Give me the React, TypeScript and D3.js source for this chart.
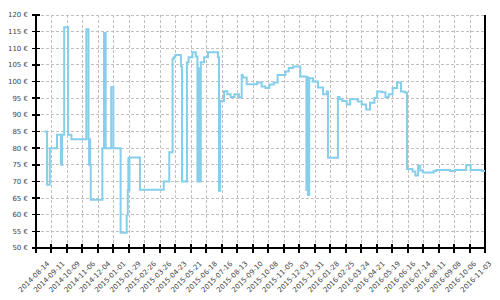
import React from "react";
import * as d3 from "d3";

const dates = [
  "2014-08-29","2014-09-03","2014-09-08","2014-09-21","2014-09-28","2014-09-30","2014-10-04","2014-10-11","2014-10-17",
  "2014-11-13","2014-11-17","2014-11-18","2014-11-19","2014-11-20","2014-11-21","2014-12-12","2014-12-15","2014-12-18",
  "2014-12-28","2015-01-01","2015-01-14","2015-01-25","2015-01-27","2015-01-28","2015-01-29","2015-01-30","2015-02-18",
  "2015-04-02","2015-04-12","2015-04-18","2015-04-20","2015-04-23","2015-05-03","2015-05-05","2015-05-14","2015-05-17",
  "2015-05-24","2015-05-30","2015-06-02","2015-06-05","2015-06-06","2015-06-08","2015-06-14","2015-06-21","2015-07-09",
  "2015-07-11","2015-07-13","2015-07-20","2015-07-26","2015-08-01","2015-08-08","2015-08-16","2015-08-21","2015-08-23",
  "2015-08-30","2015-09-18","2015-09-26","2015-10-03","2015-10-10","2015-10-18","2015-10-25","2015-11-08","2015-11-14",
  "2015-11-22","2015-12-05","2015-12-16","2015-12-17","2015-12-19","2015-12-21","2015-12-28","2016-01-06","2016-01-15",
  "2016-01-22","2016-01-24","2016-02-11","2016-02-14","2016-02-19","2016-02-27","2016-03-04","2016-03-18","2016-03-25",
  "2016-04-02","2016-04-09","2016-04-17","2016-04-22","2016-04-30","2016-05-07","2016-05-13","2016-05-20","2016-05-28",
  "2016-06-04","2016-06-11","2016-06-15","2016-06-25","2016-06-30","2016-07-05","2016-07-09","2016-07-14","2016-08-02",
  "2016-08-07","2016-09-01","2016-09-10","2016-09-30","2016-10-08","2016-10-28","2016-11-03"
];
const prices = [
  85, 69, 80, 84, 75, 84, 116.3, 84, 82.7,
  115.7, 82.7, 75, 82.7, 75, 64.5, 80, 114.6, 80,
  98.3, 80, 54.6, 60, 67.4, 77, 67.4, 77.2, 67.5,
  70, 78.8, 106.8, 107.3, 108, 104.5, 70, 105.8, 107.3,
  108.8, 107.5, 70, 104, 70, 105.8, 107.3, 108.8, 107.3,
  67.2, 94.2, 97.1, 96.2, 95.4, 96.2, 95.2, 102, 101.2,
  99.2, 99.7, 98.5, 98.1, 99.1, 99.7, 102, 103, 104.1,
  104.5, 101.5, 67.4, 101.3, 65.9, 101, 100, 98.2, 96.2,
  97, 77.1, 95.4, 94.7, 94.2, 93.1, 94.7, 94, 93.1,
  91.6, 93.6, 95.1, 97, 96.8, 95.4, 96.2, 98.1, 99.7,
  97, 96.7, 73.7, 73, 71.8, 74.7, 73.3, 72.7, 73.1,
  73.4, 73.1, 73.4, 74.9, 73.4, 73.1, 73.1
];
const tickLabels = [
  "2014-08-14","2014-09-11","2014-10-09","2014-11-06","2014-12-04","2015-01-01","2015-01-29","2015-02-26",
  "2015-03-26","2015-04-23","2015-05-21","2015-06-18","2015-07-16","2015-08-13","2015-09-10","2015-10-08",
  "2015-11-05","2015-12-03","2015-12-31","2016-01-28","2016-02-25","2016-03-24","2016-04-21","2016-05-19",
  "2016-06-16","2016-07-14","2016-08-11","2016-09-08","2016-10-06","2016-11-03"
];
const yTicks = [50, 55, 60, 65, 70, 75, 80, 85, 90, 95, 100, 105, 110, 115, 120];

const parse = d3.utcParse("%Y-%m-%d");

export default function App() {
  const left = 36, right = 485, top = 15, bottom = 248;
  const x = d3.scaleUtc()
    .domain([parse(tickLabels[0])!, parse(tickLabels[tickLabels.length - 1])!])
    .range([left, right]);
  const y = d3.scaleLinear().domain([50, 120]).range([bottom, top]);
  const labelX = d3.scaleLinear().domain([0, tickLabels.length - 1]).range([50, 492]);

  const pts: [Date, number][] = dates.map((d, i) => [parse(d)!, prices[i]]);
  const line = d3.line<[Date, number]>()
    .x(d => x(d[0]))
    .y(d => y(d[1]))
    .curve(d3.curveStepAfter);

  const font = "'DejaVu Sans', sans-serif";
  const grid = "#c0c0c0";

  return (
    <svg width={500} height={300} style={{ position: "absolute", left: 0, top: 0, background: "#fff" }}>
      {yTicks.filter(t => t !== 50).map(t => (
        <line key={"h" + t} x1={left} x2={right} y1={y(t)} y2={y(t)}
          stroke={grid} strokeWidth={1} strokeDasharray="3,2" shapeRendering="crispEdges" />
      ))}
      {tickLabels.slice(1, -1).map(t => (
        <line key={"v" + t} x1={Math.round(x(parse(t)!))} x2={Math.round(x(parse(t)!))} y1={top} y2={bottom}
          stroke={grid} strokeWidth={1} strokeDasharray="3,2" shapeRendering="crispEdges" />
      ))}
      <line x1={left} x2={left} y1={top} y2={bottom + 5} stroke="#000" strokeWidth={1.5} shapeRendering="crispEdges" />
      <line x1={left - 4} x2={right} y1={bottom} y2={bottom} stroke="#000" strokeWidth={1.5} shapeRendering="crispEdges" />
      <line x1={right} x2={right} y1={top} y2={bottom + 5} stroke="#000" strokeWidth={1.5} shapeRendering="crispEdges" />
      {yTicks.map(t => (
        <g key={"yt" + t}>
          <line x1={left - 4} x2={left + 4} y1={y(t)} y2={y(t)} stroke="#000" strokeWidth={1.5} shapeRendering="crispEdges" />
          <text x={28} y={y(t)} dy="0.35em" textAnchor="end" fontFamily={font} fontSize={7} fill="#444">
            {t} €
          </text>
        </g>
      ))}
      {tickLabels.map((t, i) => {
        const tx = Math.round(x(parse(t)!));
        const lx = labelX(i);
        return (
          <g key={"xt" + t}>
            <line x1={tx} x2={tx} y1={bottom - 4} y2={bottom + 5} stroke="#000" strokeWidth={1.5} shapeRendering="crispEdges" />
            <text x={lx} y={264} textAnchor="end" fontFamily={font} fontSize={7} fill="#444"
              transform={`rotate(-45 ${lx} 264)`}>
              {t}
            </text>
          </g>
        );
      })}
      <path d={line(pts) || ""} fill="none" stroke="#87CEEB" strokeWidth={2} />
    </svg>
  );
}
